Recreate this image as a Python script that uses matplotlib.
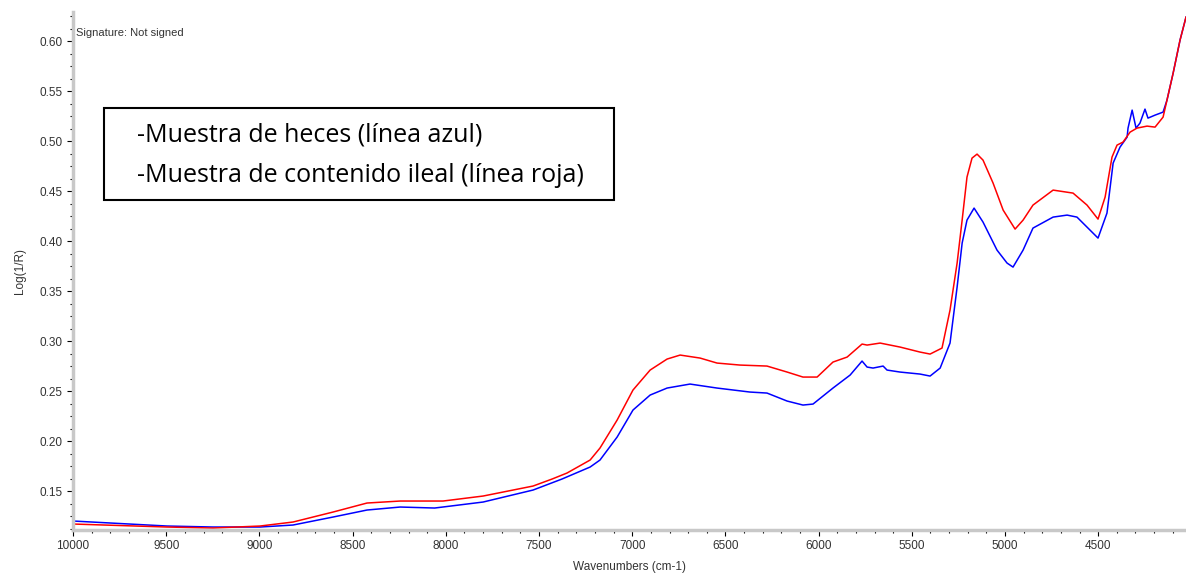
import numpy as np
import matplotlib
matplotlib.use("Agg")
import matplotlib.pyplot as plt
from matplotlib.ticker import MultipleLocator
from matplotlib.patches import Rectangle

# spectra (wavenumber, Log(1/R))
heces_x = [10000, 9496, 9249, 8997, 8820, 8605, 8423, 8245, 8060, 7800, 7532, 7377,
           7226, 7173, 7081, 6996, 6904, 6813, 6690, 6545, 6368, 6277, 6169, 6084,
           6030, 5923, 5831, 5767, 5740, 5708, 5654, 5633, 5563, 5456, 5402, 5348,
           5295, 5257, 5230, 5204, 5166, 5118, 5043, 4989, 4957, 4903, 4850, 4742,
           4667, 4614, 4544, 4501, 4453, 4420, 4383, 4345, 4340, 4318, 4297, 4276,
           4249, 4233, 4195, 4152, 4131, 4098, 4061, 4029]
heces_y = [0.120, 0.115, 0.114, 0.114, 0.116, 0.124, 0.131, 0.134, 0.133, 0.139, 0.151, 0.162,
           0.174, 0.181, 0.204, 0.231, 0.246, 0.253, 0.257, 0.253, 0.249, 0.248, 0.240, 0.236,
           0.237, 0.253, 0.266, 0.280, 0.274, 0.273, 0.275, 0.271, 0.269, 0.267, 0.265, 0.273,
           0.298, 0.354, 0.398, 0.421, 0.433, 0.419, 0.391, 0.378, 0.374, 0.391, 0.413, 0.424,
           0.426, 0.424, 0.411, 0.403, 0.428, 0.478, 0.494, 0.504, 0.513, 0.531, 0.513, 0.518,
           0.532, 0.523, 0.526, 0.529, 0.541, 0.568, 0.601, 0.624]

ileal_x = [10000, 9496, 9249, 8997, 8820, 8605, 8423, 8245, 8015, 7800, 7532, 7430,
           7350, 7226, 7173, 7081, 6996, 6904, 6813, 6743, 6636, 6545, 6422, 6277,
           6169, 6084, 6008, 5923, 5847, 5767, 5740, 5670, 5563, 5456, 5402, 5338,
           5295, 5257, 5230, 5204, 5177, 5150, 5118, 5064, 5010, 4946, 4903, 4850,
           4742, 4635, 4560, 4501, 4463, 4426, 4399, 4367, 4329, 4292, 4238, 4195,
           4152, 4131, 4098, 4061, 4029]
ileal_y = [0.117, 0.114, 0.113, 0.115, 0.119, 0.129, 0.138, 0.140, 0.140, 0.145, 0.155, 0.162,
           0.168, 0.181, 0.193, 0.221, 0.251, 0.271, 0.282, 0.286, 0.283, 0.278, 0.276, 0.275,
           0.269, 0.264, 0.264, 0.279, 0.284, 0.297, 0.296, 0.298, 0.294, 0.289, 0.287, 0.293,
           0.331, 0.378, 0.421, 0.464, 0.483, 0.487, 0.481, 0.458, 0.431, 0.412, 0.421, 0.436,
           0.451, 0.448, 0.436, 0.422, 0.444, 0.484, 0.496, 0.499, 0.509, 0.513, 0.515, 0.514,
           0.524, 0.541, 0.568, 0.601, 0.624]

note_lines = ["-Muestra de heces (línea azul)",
              "-Muestra de contenido ileal (línea roja)"]

fig = plt.figure(figsize=(11.86, 5.78), dpi=100)
ax = fig.add_axes([0.0616, 0.083, 0.9384, 0.896])

ax.plot(heces_x, heces_y, color="#0000ff", lw=1.1)
ax.plot(ileal_x, ileal_y, color="#ff0000", lw=1.1)

ax.set_xlim(10000, 4029)
ax.set_ylim(0.111, 0.629)

ax.xaxis.set_major_locator(MultipleLocator(500))
ax.xaxis.set_minor_locator(MultipleLocator(100))
ax.yaxis.set_major_locator(MultipleLocator(0.05))
ax.yaxis.set_minor_locator(MultipleLocator(0.0125))
ax.yaxis.set_major_formatter(plt.FormatStrFormatter("%.2f"))

for s in ["top", "right"]:
    ax.spines[s].set_visible(False)
for s in ["left", "bottom"]:
    ax.spines[s].set_color("#c8c8c8")
    ax.spines[s].set_linewidth(2.5)

ax.tick_params(which="major", length=4, width=0.8, color="black",
               labelsize=8.5, labelcolor="#333333")
ax.tick_params(which="minor", length=2, width=0.8, color="black")
for lab in ax.get_xticklabels() + ax.get_yticklabels():
    lab.set_family("Liberation Sans")

ax.set_xlabel("Wavenumbers (cm-1)", fontsize=8.5, color="#333333",
              family="Liberation Sans", labelpad=6)
ax.set_ylabel("Log(1/R)", fontsize=8.5, color="#333333",
              family="Liberation Sans", labelpad=10)

ax.text(0.003, 0.96, "Signature: Not signed", transform=ax.transAxes,
        fontsize=8, color="#333333", family="Liberation Sans", va="center")

# annotation box in figure coordinates
fig.patches.append(Rectangle((0.0877, 0.654), 0.430, 0.159, transform=fig.transFigure,
                             fc="white", ec="black", lw=1.5, zorder=5))
fig.text(0.1155, 0.7664, note_lines[0], fontsize=18, family="Open Sans",
         va="center", zorder=6)
fig.text(0.1155, 0.697, note_lines[1], fontsize=18, family="Open Sans",
         va="center", zorder=6)

fig.savefig("out.png", dpi=100)
